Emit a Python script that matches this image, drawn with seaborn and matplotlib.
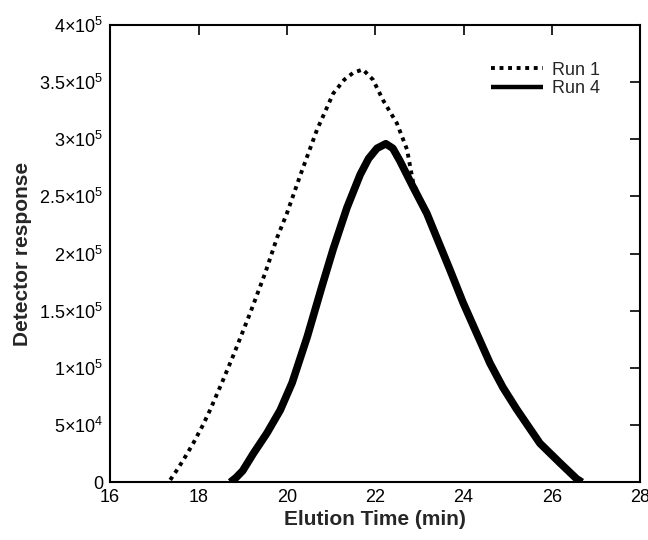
import matplotlib
matplotlib.use("Agg")
import matplotlib.pyplot as plt
import seaborn as sns
import pandas as pd
from matplotlib.ticker import FixedLocator

# Data (x: min, y: detector response)
run1_time = [17.36, 17.5, 17.65, 17.88, 18.1, 18.26, 18.53, 18.8, 19.17, 19.51, 19.78,
             20.0, 20.3, 20.68, 21.05, 21.3, 21.5, 21.72, 21.95, 22.18, 22.49, 22.72,
             22.86, 23.17, 23.35, 23.69, 23.99, 24.3, 24.6, 24.89, 25.2, 25.5, 25.73,
             26.18, 26.56, 26.68]
run1_resp = [2e3, 10e3, 19e3, 34e3, 50e3, 63e3, 87e3, 112e3, 148e3, 183e3, 214e3,
             235e3, 268e3, 308e3, 340e3, 352e3, 358e3, 361e3, 352e3, 334e3, 314e3, 291e3,
             262e3, 235e3, 218e3, 186e3, 157e3, 130e3, 104e3, 83e3, 64e3, 47e3, 34e3,
             17e3, 3e3, 0]

run4_time = [18.72, 18.85, 19.0, 19.24, 19.55, 19.85, 20.12, 20.46, 20.8, 21.05, 21.36,
             21.66, 21.85, 22.04, 22.24, 22.4, 22.56, 22.86, 23.17, 23.35, 23.69, 23.99,
             24.3, 24.6, 24.89, 25.2, 25.5, 25.73, 26.18, 26.56, 26.68]
run4_resp = [0, 4e3, 10e3, 25e3, 43e3, 63e3, 87e3, 127e3, 172e3, 204e3, 240e3,
             269e3, 283e3, 292e3, 296e3, 292e3, 281e3, 258e3, 235e3, 218e3, 186e3, 157e3,
             130e3, 104e3, 83e3, 64e3, 47e3, 34e3, 17e3, 3e3, 0]

x_ticks = [16, 18, 20, 22, 24, 26, 28]
y_ticks = [0, 5e4, 1e5, 1.5e5, 2e5, 2.5e5, 3e5, 3.5e5, 4e5]
y_tick_labels = ["0", r"$5{\times}10^4$", r"$1{\times}10^5$", r"$1.5{\times}10^5$",
                 r"$2{\times}10^5$", r"$2.5{\times}10^5$", r"$3{\times}10^5$",
                 r"$3.5{\times}10^5$", r"$4{\times}10^5$"]

sns.set_style("white")
plt.rcParams["font.family"] = ["Liberation Sans", "DejaVu Sans"]
plt.rcParams["mathtext.fontset"] = "custom"
plt.rcParams["mathtext.rm"] = "Liberation Sans"
plt.rcParams["mathtext.it"] = "Liberation Sans"
plt.rcParams["mathtext.bf"] = "Liberation Sans:bold"

df1 = pd.DataFrame({"t": run1_time, "r": run1_resp})
df4 = pd.DataFrame({"t": run4_time, "r": run4_resp})

fig = plt.figure(figsize=(6.48, 5.4), dpi=100)
ax = fig.add_axes([0.170, 0.107, 0.818, 0.847])

sns.lineplot(data=df1, x="t", y="r", ax=ax, color="black", lw=2.8,
             linestyle=(0, (1, 1.2)), label="Run 1", sort=False)
sns.lineplot(data=df4, x="t", y="r", ax=ax, color="black", lw=5.5,
             label="Run 4", sort=False, solid_joinstyle="round", solid_capstyle="butt")

ax.set_xlim(16, 28)
ax.set_ylim(0, 4e5)
ax.xaxis.set_major_locator(FixedLocator(x_ticks))
ax.yaxis.set_major_locator(FixedLocator(y_ticks))
ax.set_yticklabels(y_tick_labels)
ax.tick_params(direction="in", length=7, width=1.2, top=True, right=True,
               labelsize=13, pad=5, colors="black")
for s in ax.spines.values():
    s.set_linewidth(1.5)
    s.set_color("black")

ax.set_xlabel("Elution Time (min)", fontsize=15, fontweight="bold", labelpad=3)
ax.set_ylabel("Detector response", fontsize=15, fontweight="bold", labelpad=5)

leg = ax.legend(loc="upper right", bbox_to_anchor=(0.955, 0.955), frameon=False,
                fontsize=13, handlelength=2.9, handletextpad=0.5, labelspacing=0.1)
for h in leg.get_lines():
    h.set_linewidth(2.8 if h.get_label() == "Run 1" else 3.2)

fig.savefig("out.png", dpi=100)
